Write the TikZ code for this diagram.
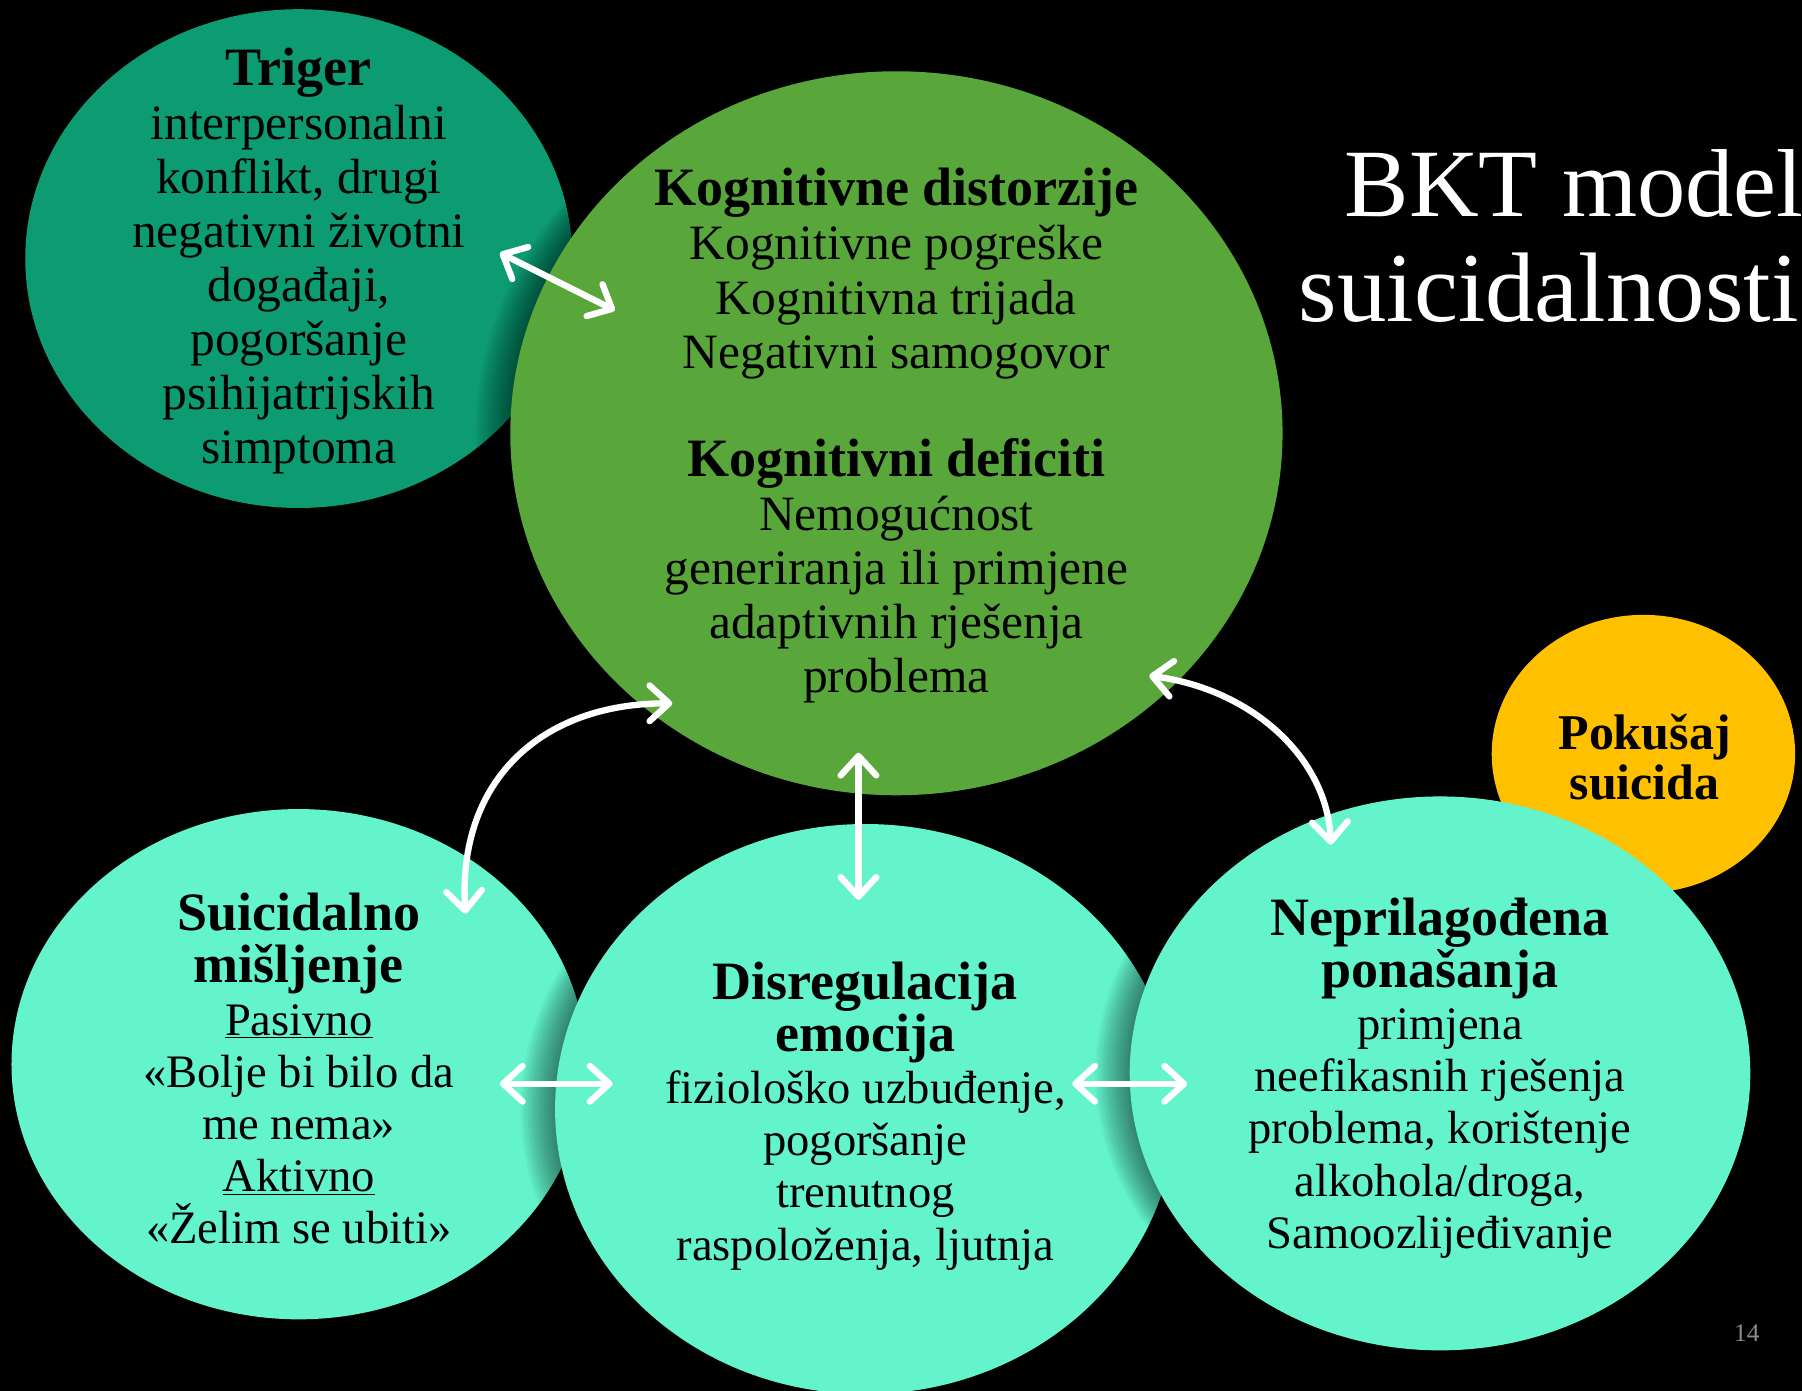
\documentclass[tikz,border=0pt]{standalone}
\usepackage{fontspec}
\setmainfont{Liberation Serif}
\usetikzlibrary{arrows.meta}
\definecolor{trigcol}{RGB}{13,155,114}
\definecolor{kogcol}{RGB}{89,166,59}
\definecolor{mintcol}{RGB}{99,244,204}
\definecolor{yelcol}{RGB}{255,192,0}
\definecolor{pagecol}{RGB}{140,140,140}
\tikzset{
  body/.style={align=center, text=black, inner sep=0pt, font=\fontsize{43}{47}\selectfont},
  bodysm/.style={align=center, text=black, inner sep=0pt, font=\fontsize{40.5}{45.4}\selectfont},
  biarrow/.style={draw=white, line width=5.5pt, line cap=round,
    {Straight Barb[length=17pt,width=31pt,round]}-{Straight Barb[length=17pt,width=31pt,round]}},
  shadowfill/.style={fill=black, opacity=0.035}
}
\newcommand{\hd}[1]{{\bfseries\fontsize{47}{47}\selectfont #1}}
\begin{document}
\begin{tikzpicture}[x=1pt,y=-1pt]
\clip (0,0) rectangle (1568,1210);
\fill[black] (0,0) rectangle (1568,1210);
% Triger
\fill[trigcol] (260,225) ellipse [x radius=238, y radius=217];
% shadow of green on Triger
\foreach \s in {2,4,...,30} { \fill[shadowfill] (780-\s,377) ellipse [x radius=336, y radius=315]; }
\fill[kogcol] (780,377) ellipse [x radius=336, y radius=315];
% Suicidalno
\fill[mintcol] (260,926) ellipse [x radius=250, y radius=222];
\foreach \s in {2,4,...,30} { \fill[shadowfill] (753-\s,965) ellipse [x radius=270, y radius=248]; }
\fill[mintcol] (753,965) ellipse [x radius=270, y radius=248];
\foreach \s in {2,4,...,30} { \fill[shadowfill] (1253-\s,934) ellipse [x radius=270, y radius=241]; }
% Pokusaj
\fill[yelcol] (1430,656) ellipse [x radius=132, y radius=121];
% Neprilagodena
\fill[mintcol] (1253,934) ellipse [x radius=270, y radius=241];

% texts
\node[body] (trig) at (260,227) {\hd{Triger}\\interpersonalni\\konflikt, drugi\\negativni životni\\događaji,\\pogoršanje\\psihijatrijskih\\simptoma};
\node[body] (kog) at (780,379) {\hd{Kognitivne distorzije}\\Kognitivne pogreške\\Kognitivna trijada\\Negativni samogovor\\[47pt]\hd{Kognitivni deficiti}\\Nemogućnost\\generiranja ili primjene\\adaptivnih rješenja\\problema};
\node[align=center, inner sep=0pt, font=\bfseries\fontsize{43.5}{44}\selectfont] (pok) at (1431,659) {Pokušaj\\suicida};
\node[bodysm] (suic) at (260,930) {\hd{Suicidalno}\\\hd{mišljenje}\\\underline{Pasivno}\\«Bolje bi bilo da\\me nema»\\\underline{Aktivno}\\«Želim se ubiti»};
\node[bodysm] (dis) at (753,971) {\hd{Disregulacija}\\\hd{emocija}\\fiziološko uzbuđenje,\\pogoršanje\\trenutnog\\raspoloženja, ljutnja};
\node[bodysm] (nep) at (1253,938) {\hd{Neprilagođena}\\\hd{ponašanja}\\primjena\\neefikasnih rješenja\\problema, korištenje\\alkohola/droga,\\Samoozlijeđivanje};

% title
\node[anchor=base west, inner sep=0pt, text=white, font=\fontsize{84}{92}\selectfont] (t1) at (1170,188) {BKT model};
\node[anchor=base west, inner sep=0pt, text=white, font=\fontsize{86}{92}\selectfont] (t2) at (1130,280) {suicidalnosti};
\node[text=pagecol, inner sep=0pt, font=\fontsize{22}{24}\selectfont] (pg) at (1520,1160) {14};

% arrow endpoints
\coordinate (a1) at (435,220); \coordinate (a2) at (535,270);
\coordinate (b1) at (585,612); \coordinate (b2) at (405,795);
\coordinate (c1) at (1000,588); \coordinate (c2) at (1158,735);
\coordinate (d1) at (747,655); \coordinate (d2) at (747,783);
\coordinate (e1) at (435,943); \coordinate (e2) at (533,943);
\coordinate (f1) at (933,943); \coordinate (f2) at (1033,943);

\draw[biarrow] (a1) -- (a2);
\draw[biarrow] (b2) .. controls (398,680) and (470,612) .. (b1);
\draw[biarrow] (c1) .. controls (1090,600) and (1155,660) .. (c2);
\draw[biarrow] (d1) -- (d2);
\draw[biarrow] (e1) -- (e2);
\draw[biarrow] (f1) -- (f2);
\end{tikzpicture}
\end{document}
